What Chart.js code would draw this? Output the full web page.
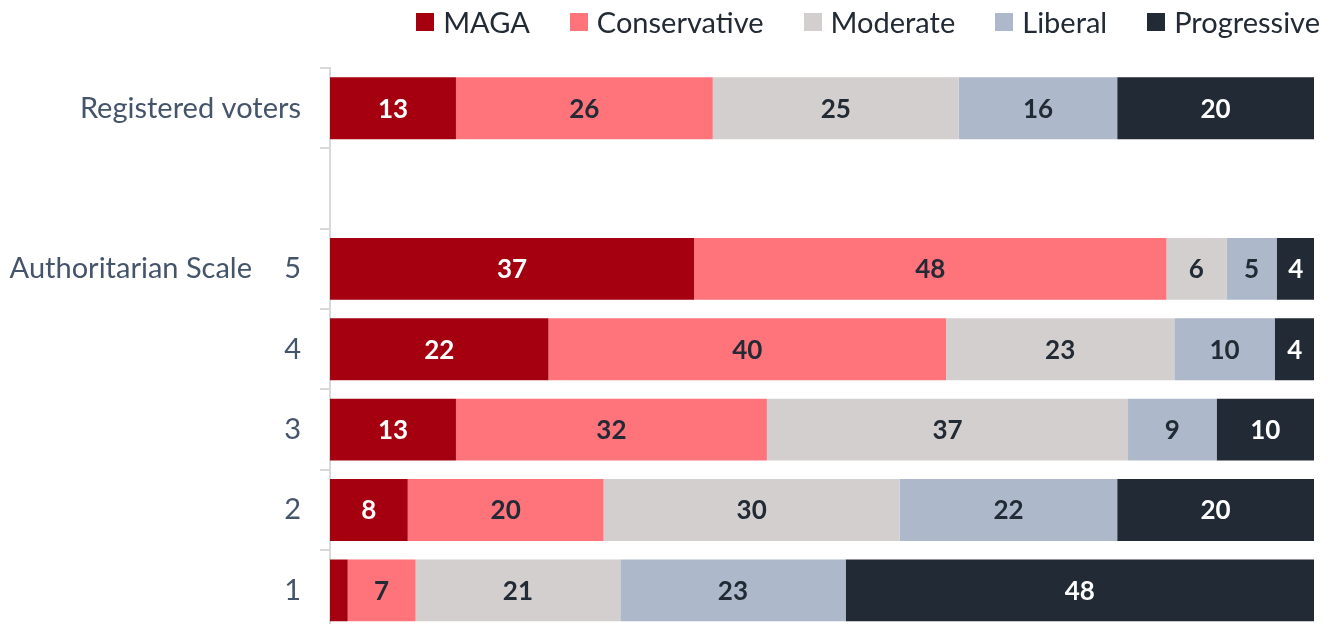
<!DOCTYPE html>
<html>
<head>
<meta charset="utf-8">
<script src="https://cdn.jsdelivr.net/npm/chart.js@4"></script>
<style>
  html, body { margin: 0; padding: 0; background: #fff; overflow: hidden; }
  /* taller than the window: the y scale keeps label padding at the bottom */
  #wrap { position: relative; width: 1341px; height: 667px; }
  #legend {
    position: absolute; top: 4px; right: 21px;
    display: flex; gap: 40px;
    font-family: Lato, "Open Sans", sans-serif; font-size: 29px; color: #222a35;
  }
  #legend span.item { display: flex; align-items: center; }
  #legend span.box { display: inline-block; width: 18px; height: 18px; margin-right: 9px; }
</style>
</head>
<body>
<div id="wrap">
  <canvas id="chart"></canvas>
  <div id="legend"></div>
</div>
<script>
const categories = ["Registered voters", "", "5", "4", "3", "2", "1"];
const seriesNames = ["MAGA", "Conservative", "Moderate", "Liberal", "Progressive"];
const maga = [12.8, null, 37, 22.2, 12.8, 7.9, 1.8];
const conservative = [26.1, null, 48, 40.4, 31.6, 19.9, 6.9];
const moderate = [25, null, 6.1, 23.2, 36.7, 30.1, 20.8];
const liberal = [16.1, null, 5.1, 10.2, 9, 22.1, 22.9];
const progressive = [20, null, 3.9, 4.1, 9.9, 20, 47.6];
const colors = ["#a5000f", "#ff737b", "#d3cfce", "#adb9ca", "#222a35"];
const labelColors = ["#ffffff", "#222a35", "#222a35", "#222a35", "#ffffff"];
const groupLabel = "Authoritarian Scale";

const fontFamily = "Lato, 'Open Sans', sans-serif";
const textColor = "#44546a";

// value labels in the middle of each segment
const barLabels = {
  id: "barLabels",
  afterDatasetsDraw(chart) {
    const ctx = chart.ctx;
    ctx.save();
    ctx.font = "bold 26px " + fontFamily;
    ctx.textAlign = "center";
    ctx.textBaseline = "middle";
    chart.data.datasets.forEach((ds, i) => {
      chart.getDatasetMeta(i).data.forEach((bar, j) => {
        const v = ds.data[j];
        if (v == null || v < 3) return;
        ctx.fillStyle = labelColors[i];
        ctx.fillText(Math.round(v), (bar.x + bar.base) / 2, bar.y + 1);
      });
    });
    ctx.restore();
  }
};

const sideLabel = {
  id: "sideLabel",
  afterDraw(chart) {
    const ctx = chart.ctx;
    const y = chart.scales.y.getPixelForValue(2);
    ctx.save();
    ctx.font = "29px " + fontFamily;
    ctx.fillStyle = textColor;
    ctx.textAlign = "right";
    ctx.textBaseline = "middle";
    ctx.fillText(groupLabel, 252, y);
    ctx.restore();
  }
};

const sets = [maga, conservative, moderate, liberal, progressive];

const chart = new Chart(document.getElementById("chart"), {
  type: "bar",
  data: {
    labels: categories,
    datasets: sets.map((d, i) => ({
      label: seriesNames[i],
      data: d,
      backgroundColor: colors[i],
      barPercentage: 0.77,
      categoryPercentage: 1
    }))
  },
  options: {
    indexAxis: "y",
    responsive: true,
    maintainAspectRatio: false,
    animation: false,
    layout: { padding: { right: 27, top: 68, bottom: 0 } },
    scales: {
      x: {
        stacked: true,
        min: 0,
        max: 100,
        display: false
      },
      y: {
        stacked: true,
        afterFit: (scale) => { scale.width = 330; },
        grid: {
          offset: true,
          drawOnChartArea: false,
          drawTicks: true,
          tickLength: 10,
          color: "#d9d9d9",
          lineWidth: 2
        },
        border: { color: "#d9d9d9", width: 2 },
        ticks: {
          color: textColor,
          padding: 19,
          font: { family: fontFamily, size: 29 }
        }
      }
    },
    plugins: {
      legend: { display: false },
      tooltip: { enabled: false }
    }
  },
  plugins: [barLabels, sideLabel]
});

// html legend built from the chart's datasets
const legendEl = document.getElementById("legend");
chart.data.datasets.forEach((ds) => {
  const item = document.createElement("span");
  item.className = "item";
  const box = document.createElement("span");
  box.className = "box";
  box.style.background = ds.backgroundColor;
  item.appendChild(box);
  item.appendChild(document.createTextNode(ds.label));
  legendEl.appendChild(item);
});
</script>
</body>
</html>
